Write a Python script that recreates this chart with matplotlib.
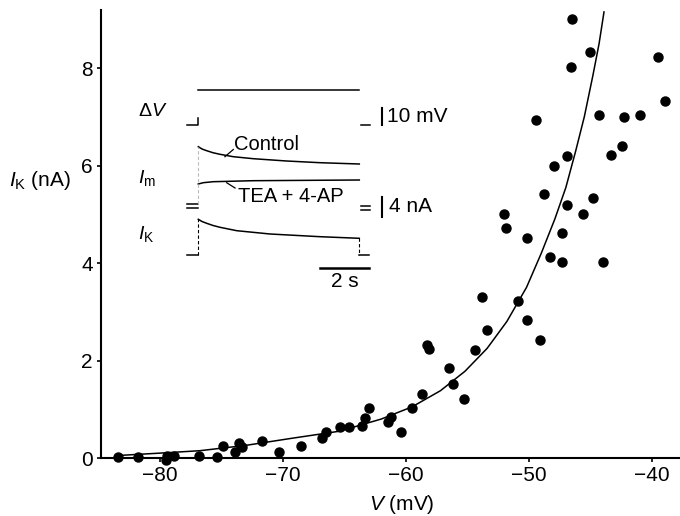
import matplotlib
matplotlib.use('Agg')
import matplotlib.pyplot as plt

plt.rcParams['font.family'] = ['Liberation Sans', 'DejaVu Sans']
plt.rcParams['mathtext.fontset'] = 'custom'
plt.rcParams['mathtext.rm'] = 'Liberation Sans'
plt.rcParams['mathtext.it'] = 'Liberation Sans:italic'

# Measured I_K (nA) against membrane potential V (mV)
v_mv = [-83.4, -81.8, -79.5, -79.4, -78.9, -76.8, -75.4, -74.9, -73.9, -73.6,
        -73.3, -71.7, -70.3, -68.5, -66.8, -66.5, -65.4, -64.6, -63.6, -63.3,
        -63.0, -61.5, -61.2, -60.4, -59.5, -58.7, -58.3, -58.1, -56.5, -56.2,
        -55.3, -54.4, -53.8, -53.4, -50.9, -50.2, -49.1, -52.0, -51.9, -50.2,
        -48.3, -47.3, -47.3, -46.9, -46.9, -48.8, -48.0, -49.4, -46.6, -46.5,
        -45.0, -45.6, -44.8, -44.0, -44.3, -43.3, -42.4, -42.3, -41.0, -39.5,
        -38.9]
ik_na = [0.03, 0.03, -0.04, 0.05, 0.05, 0.04, 0.03, 0.25, 0.13, 0.30,
         0.22, 0.35, 0.12, 0.25, 0.42, 0.54, 0.63, 0.63, 0.66, 0.83,
         1.03, 0.73, 0.85, 0.54, 1.03, 1.31, 2.32, 2.23, 1.84, 1.52,
         1.22, 2.21, 3.31, 2.62, 3.22, 2.83, 2.42, 5.01, 4.71, 4.51,
         4.13, 4.02, 4.62, 5.20, 6.19, 5.41, 6.00, 6.93, 8.03, 9.01,
         8.33, 5.01, 5.34, 4.02, 7.03, 6.21, 6.41, 6.99, 7.03, 8.22,
         7.32]

# Fitted curve
fit_v = [-83.5, -80.0, -76.75, -73.0, -69.4, -65.4, -62.0, -59.5, -57.2, -55.2,
         -53.4, -51.8, -50.2, -49.0, -47.9, -47.0, -46.2, -45.5, -44.8, -44.3, -43.9]
fit_i = [0.05, 0.10, 0.15, 0.26, 0.40, 0.55, 0.80, 1.05, 1.38, 1.78,
         2.25, 2.80, 3.50, 4.20, 4.90, 5.55, 6.30, 7.00, 7.85, 8.50, 9.15]

# Inset: example records during a voltage step (time in s)
step_mv = 20.0
pulse_end = 6.53
ctrl_t = [0, 0.15, 0.34, 0.6, 0.88, 1.42, 2.23, 3.58, 4.94, 6.53]
ctrl_na = [11.36, 10.9, 10.56, 10.15, 9.84, 9.36, 8.96, 8.5, 8.16, 7.9]
tea_t = [0, 0.2, 0.61, 2.23, 6.53]
tea_na = [4.8, 5.06, 5.26, 5.46, 5.6]
ik_t = [0, 0.15, 0.34, 0.6, 0.88, 1.56, 2.91, 4.94, 6.53]
ik_tr = [7.14, 6.7, 6.34, 5.9, 5.54, 4.86, 4.2, 3.66, 3.34]

fig = plt.figure(figsize=(6.8, 5.16), dpi=100)
ax = fig.add_axes([101 / 680, 58 / 516, 579 / 680, 448 / 516])

ax.plot(fit_v, fit_i, color='black', lw=1.1)
ax.plot(v_mv, ik_na, 'o', color='black', ms=6.5, clip_on=False)

ax.set_xlim(-84.8, -37.72)
ax.set_ylim(0, 9.19)
ax.set_xticks([-80, -70, -60, -50, -40])
ax.set_yticks([0, 2, 4, 6, 8])
for s in ['top', 'right']:
    ax.spines[s].set_visible(False)
for s in ['left', 'bottom']:
    ax.spines[s].set_linewidth(1.5)
ax.tick_params(direction='out', length=3, width=1.2, labelsize=15, pad=3)

ax.set_ylabel(r'$I_{\rm K}$ (nA)', fontsize=15, rotation=0, ha='right', va='center')
ax.yaxis.set_label_coords(-0.052, 0.62)
fig.text(402 / 680, 1 - 505 / 516, r'$V$ (mV)', fontsize=15, ha='center', va='center')

# inset records
ins = fig.add_axes([130 / 680, 226 / 516, 340 / 680, 210 / 516])
ins.set_xlim(-2.77, 11.02)
ins.set_ylim(0, 42)
ins.axis('off')

v_base, mv_scale = 33.0, 0.35
ctrl_base, tea_base, ik_base = 17.3, 16.4, 7.0
pre = [-0.47, 0]
post = [6.6, 6.97]
lw = 1.1

# voltage step
ins.plot([pre[0], 0, 0], [v_base, v_base, v_base + 1.4], color='black', lw=lw)
ins.plot([0, pulse_end], [v_base + step_mv * mv_scale] * 2, color='black', lw=lw)
ins.plot(post, [v_base, v_base], color='black', lw=lw)

# membrane currents
ins.plot(ctrl_t, [ctrl_base + c for c in ctrl_na], color='black', lw=lw)
ins.plot(tea_t, [tea_base + c for c in tea_na], color='black', lw=lw)
ins.plot(pre, [ctrl_base, ctrl_base], color='black', lw=lw)
ins.plot(pre, [tea_base, tea_base], color='black', lw=lw)
ins.plot(post, [ctrl_base - 0.4, ctrl_base - 0.4], color='black', lw=lw)
ins.plot(post, [tea_base - 0.3, tea_base - 0.3], color='black', lw=lw)
ins.plot([0, 0], [ctrl_base, ctrl_base + ctrl_na[0]], color='#bbbbbb', lw=0.8, ls=(0, (3, 2)))

# potassium current
ins.plot(ik_t, [ik_base + c for c in ik_tr], color='black', lw=lw)
ins.plot([0, 0], [ik_base, ik_base + ik_tr[0]], color='black', lw=0.8, ls=(0, (3, 2)))
ins.plot(pre, [ik_base, ik_base], color='black', lw=lw)
ins.plot([pulse_end, pulse_end], [ik_base + ik_tr[-1], ik_base], color='black', lw=0.8, ls=(0, (3, 2)))
ins.plot([pulse_end, post[1] - 0.04], [ik_base, ik_base], color='black', lw=lw)

# labels and leaders
ins.text(-2.44, 35.7, r'$\Delta V$', fontsize=14, ha='left', va='center')
ins.text(-2.44, 22.3, r'$I_{\rm m}$', fontsize=14, ha='left', va='center')
ins.text(-2.44, 11.3, r'$I_{\rm K}$', fontsize=14, ha='left', va='center')
ins.text(1.45, 29.0, 'Control', fontsize=14.5, ha='left', va='center')
ins.plot([1.08, 1.42], [26.66, 28.1], color='black', lw=0.9)
ins.text(1.62, 18.6, 'TEA + 4-AP', fontsize=14.5, ha='left', va='center')
ins.plot([1.15, 1.49], [21.46, 20.4], color='black', lw=0.9)

# scale bars
bar_t = 7.44
ins.plot([bar_t, bar_t], [v_base, v_base + 10 * mv_scale], color='black', lw=1.5)
ins.text(7.64, 34.8, '10 mV', fontsize=15, ha='left', va='center')
ins.plot([bar_t, bar_t], [14.66, 14.66 + 4], color='black', lw=1.5)
ins.text(7.72, 16.66, '4 nA', fontsize=15, ha='left', va='center')
ins.plot([4.93, 4.93 + 2], [4.34, 4.34], color='black', lw=1.8)
ins.text(5.95, 1.66, '2 s', fontsize=15, ha='center', va='center')

fig.savefig('out.png', dpi=100)
